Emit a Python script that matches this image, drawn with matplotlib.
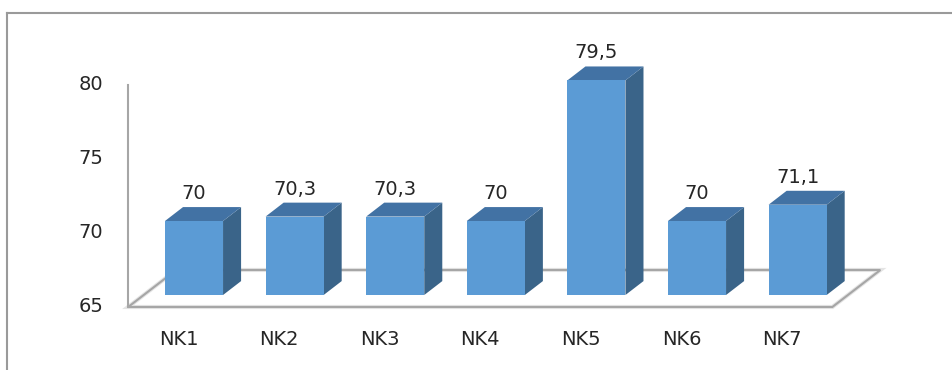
import matplotlib
matplotlib.use("Agg")
import matplotlib.pyplot as plt
from matplotlib.patches import Polygon
from matplotlib.lines import Line2D

# Chart data
categories = ["NK1", "NK2", "NK3", "NK4", "NK5", "NK6", "NK7"]
values = [70, 70.3, 70.3, 70, 79.5, 70, 71.1]
y_ticks = [65, 70, 75, 80]
y_base = 65

# 3D look: depth direction expressed in (category, value) units
DEPTH_DX = 0.477
DEPTH_DY = 2.5
BAR_WIDTH = 0.577
BAR_D0, BAR_D1 = 0.324, 0.70

FRONT = "#5b9bd5"
TOP = "#4272a4"
SIDE = "#3a6489"
GRID = "#a6a6a6"
TEXT = "#262626"
FONT_SIZE = 14


def proj(x, v, d):
    return (x + d * DEPTH_DX, v + d * DEPTH_DY)


fig = plt.figure(figsize=(9.53, 3.70), dpi=100)
ax = fig.add_axes([0, 0, 1, 1])
ax.set_xlim(-1.774, 7.699)
ax.set_ylim(60.743, 85.74)
ax.axis("off")

# floor
n = len(categories)
x0, x1 = -0.5, n - 0.5
floor = [proj(x0, y_base, 0), proj(x1, y_base, 0), proj(x1, y_base, 1), proj(x0, y_base, 1)]
ax.add_patch(Polygon(floor, closed=True, facecolor="white", edgecolor="#e4e4e4", lw=3.0, zorder=1))
ax.add_patch(Polygon(floor, closed=True, facecolor="none", edgecolor=GRID, lw=1.5, zorder=1.1))

# value axis
ax.plot([x0, x0], [y_base, y_ticks[-1]], color=GRID, lw=1.5, zorder=1.2)
for t in y_ticks:
    ax.text(-0.75, t, str(t), ha="right", va="center", fontsize=FONT_SIZE, color=TEXT)

# bars
for i, v in enumerate(values):
    xl, xr = i - BAR_WIDTH / 2, i + BAR_WIDTH / 2
    front = [proj(xl, y_base, BAR_D0), proj(xr, y_base, BAR_D0), proj(xr, v, BAR_D0), proj(xl, v, BAR_D0)]
    side = [proj(xr, y_base, BAR_D0), proj(xr, y_base, BAR_D1), proj(xr, v, BAR_D1), proj(xr, v, BAR_D0)]
    top = [proj(xl, v, BAR_D0), proj(xr, v, BAR_D0), proj(xr, v, BAR_D1), proj(xl, v, BAR_D1)]
    ax.add_patch(Polygon(side, closed=True, facecolor=SIDE, edgecolor="none", zorder=2))
    ax.add_patch(Polygon(top, closed=True, facecolor=TOP, edgecolor="none", zorder=2))
    ax.add_patch(Polygon(front, closed=True, facecolor=FRONT, edgecolor="none", zorder=2))

    lx, ly = proj(i, v, BAR_D0)
    label = f"{v:g}".replace(".", ",")
    ax.text(lx, ly + 1.85, label, ha="center", va="center", fontsize=FONT_SIZE, color=TEXT, zorder=3)

    ax.text(i, 62.77, categories[i], ha="center", va="center", fontsize=FONT_SIZE, color=TEXT)

# chart area border (top and left edges)
fig.add_artist(Line2D([7.5 / 953, 952 / 953], [1 - 13 / 370, 1 - 13 / 370],
                      transform=fig.transFigure, color="#9a9a9a", lw=1.5))
fig.add_artist(Line2D([7.5 / 953, 7.5 / 953], [1 - 13 / 370, 0],
                      transform=fig.transFigure, color="#9a9a9a", lw=1.5))

fig.savefig("out.png", dpi=100)
